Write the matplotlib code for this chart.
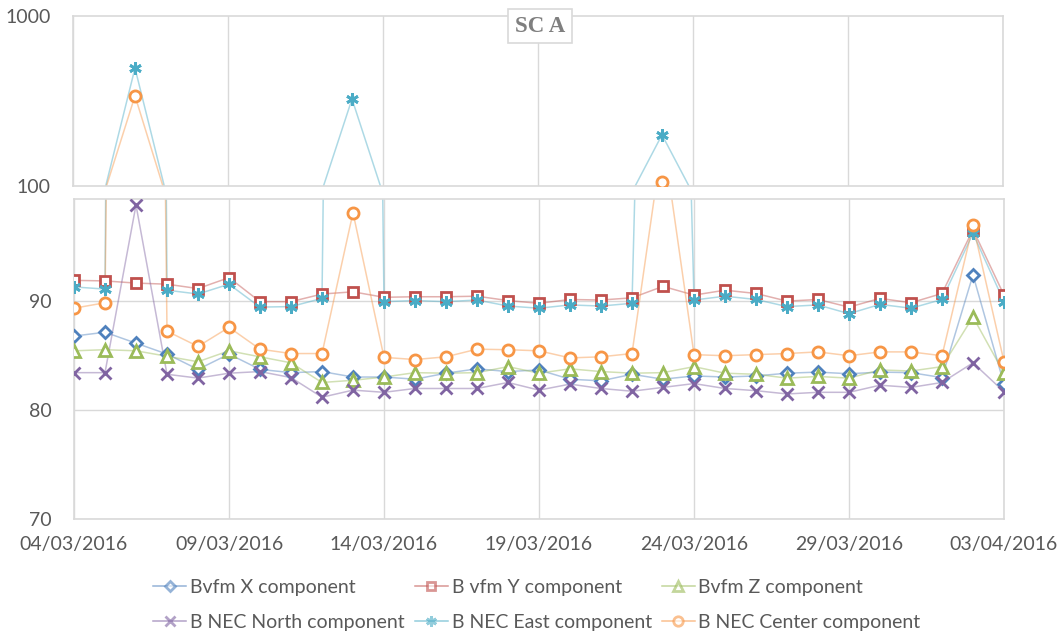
import numpy as np
import pandas as pd
import matplotlib
matplotlib.use("Agg")
import matplotlib.pyplot as plt
import matplotlib.dates as mdates
from matplotlib.lines import Line2D

plt.rcParams['font.family'] = ['Lato', 'DejaVu Sans']

# daily values 04/03/2016 .. 03/04/2016
dates = pd.date_range('2016-03-04', '2016-04-03', freq='D')

bvfm_x = [86.75, 87.1, 86.1, 85.1, 83.7, 85.1, 83.7, 83.4, 83.5, 83.0, 83.0, 82.8, 83.35, 83.75, 83.5,
          83.65, 82.8, 82.65, 83.25, 82.8, 83.1, 83.0, 83.1, 83.35, 83.45, 83.3, 83.45, 83.4, 82.95, 92.35, 82.35]
bvfm_y = [91.85, 91.8, 91.6, 91.5, 91.1, 92.1, 89.9, 89.9, 90.6, 90.8, 90.3, 90.35, 90.35, 90.4, 90.0,
          89.75, 90.1, 90.05, 90.25, 91.3, 90.5, 90.95, 90.65, 89.95, 90.1, 89.4, 90.2, 89.8, 90.65, 96.5, 90.5]
bvfm_z = [85.4, 85.5, 85.4, 84.9, 84.4, 85.4, 84.85, 84.3, 82.5, 82.7, 83.0, 83.4, 83.35, 83.4, 83.95,
          83.35, 83.75, 83.5, 83.35, 83.4, 83.95, 83.35, 83.25, 82.9, 83.05, 82.9, 83.65, 83.55, 83.95, 88.5, 83.35]
nec_north = [83.4, 83.4, 98.75, 83.25, 82.9, 83.35, 83.5, 82.95, 81.15, 81.8, 81.6, 81.95, 81.95, 81.95, 82.5,
             81.8, 82.35, 81.95, 81.7, 82.05, 82.4, 81.95, 81.75, 81.45, 81.6, 81.6, 82.25, 82.05, 82.5, 84.3, 81.65]
nec_east = [91.25, 91.05, 494, 90.95, 90.6, 91.5, 89.4, 89.45, 90.2, 325, 89.9, 90.0, 89.9, 90.05, 89.5,
            89.3, 89.6, 89.5, 89.75, 200, 90.05, 90.4, 90.1, 89.45, 89.6, 88.8, 89.65, 89.3, 90.1, 96.15, 89.9]
nec_center = [89.3, 89.8, 339, 87.2, 85.8, 87.55, 85.55, 85.15, 85.15, 98.05, 84.8, 84.6, 84.85, 85.55, 85.5,
              85.4, 84.75, 84.85, 85.15, 105, 85.05, 84.95, 85.05, 85.15, 85.3, 84.95, 85.3, 85.3, 84.95, 96.9, 84.4]

series = [
    ('Bvfm X component', bvfm_x, '#4F81BD', 'D', 'white', 6),
    ('B vfm Y component', bvfm_y, '#C0504D', 's', 'white', 7.5),
    ('Bvfm Z component', bvfm_z, '#9BBB59', '^', 'white', 8),
    ('B NEC North component', nec_north, '#8064A2', 'x', '#8064A2', 8),
    ('B NEC East component', nec_east, '#4BACC6', (6, 2, 0), '#4BACC6', 9),
    ('B NEC Center component', nec_center, '#F79646', 'o', 'white', 8),
]

grid_c = '#d9d9d9'
text_c = '#595959'

fig = plt.figure(figsize=(10.62, 6.37), dpi=100)
ax_top = fig.add_axes([73 / 1062, 1 - 186 / 637, 930 / 1062, 170 / 637])
ax_bot = fig.add_axes([74 / 1062, 1 - 519 / 637, 930 / 1062, 320 / 637])

limits = {ax_top: (100, 1000), ax_bot: (70, 99.3)}

for ax in (ax_top, ax_bot):
    lo, hi = limits[ax]
    for name, vals, col, mk, fc, ms in series:
        v = np.array(vals, dtype=float)
        ax.plot(dates, v, color=col, lw=1.1, alpha=0.45, zorder=2)
        # markers only for points inside this panel's range
        vm = np.where((v >= lo) & (v <= hi), v, np.nan)
        ax.plot(dates, vm, ls='none', marker=mk, ms=ms, mfc=fc, mec=col, mew=2, zorder=3)
    ax.set_xlim(dates[0], dates[-1])
    ax.set_xticks(dates[::5])
    ax.grid(True, axis='x', color=grid_c, lw=1)
    for s in ax.spines.values():
        s.set_color(grid_c)
        s.set_linewidth(1.2)
    ax.tick_params(length=0, colors=text_c, labelsize=14, pad=16)
    ax.set_axisbelow(True)

ax_top.set_yscale('log')
ax_top.set_ylim(100, 1000)
ax_top.set_yticks([100, 1000])
ax_top.set_yticklabels(['100', '1000'])
ax_top.yaxis.set_minor_locator(matplotlib.ticker.NullLocator())
ax_top.tick_params(axis='x', labelbottom=False)

ax_bot.set_ylim(70, 99.3)
ax_bot.set_yticks([70, 80, 90])
ax_bot.grid(True, axis='y', color=grid_c, lw=1)
ax_bot.xaxis.set_major_formatter(mdates.DateFormatter('%d/%m/%Y'))
ax_bot.tick_params(axis='x', pad=12)

fig.text(540 / 1062, 1 - 26 / 637, 'SC A', ha='center', va='center', fontsize=16.5,
         fontweight='bold', family='Liberation Serif', color='#7f7f7f',
         bbox=dict(boxstyle='square,pad=0.3', fc='white', ec=grid_c, lw=1.2))

handles = []
for name, vals, col, mk, fc, ms in series:
    handles.append(Line2D([], [], color=col, lw=1.1, alpha=0.6, marker=mk, ms=ms * 0.85,
                          mfc=fc, mec=col, mew=2, label=name))
order = [0, 3, 1, 4, 2, 5]
fig.legend([handles[i] for i in order], [series[i][0] for i in order], ncol=3,
           loc='center', bbox_to_anchor=(537 / 1062, 1 - 605 / 637), frameon=False,
           fontsize=14, labelcolor=text_c, handlelength=1.7, handletextpad=0.2,
           columnspacing=0.5, labelspacing=0.9)

fig.savefig('out.png', dpi=100)
